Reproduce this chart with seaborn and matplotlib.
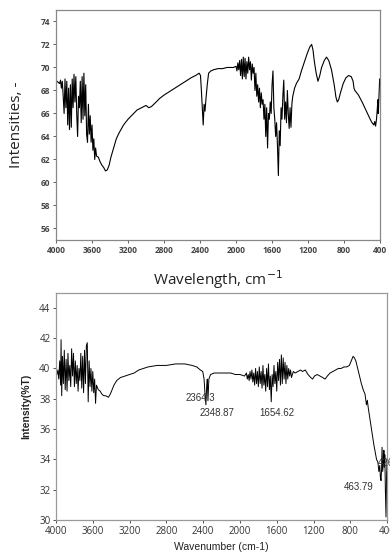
import matplotlib
matplotlib.use("Agg")
import matplotlib.pyplot as plt
import seaborn as sns
import pandas as pd

# ---------------- data ----------------
top_wn = [4000, 3990, 3975, 3960, 3950, 3940, 3930, 3920, 3910, 3900, 3890, 3880, 3870, 3860, 3850,
          3840, 3830, 3820, 3810, 3800, 3790, 3780, 3770, 3760, 3750, 3740, 3730, 3720, 3710, 3700,
          3690, 3680, 3670, 3660, 3650, 3640, 3630, 3620, 3610, 3600, 3590, 3580, 3570, 3560, 3550,
          3530, 3510, 3490, 3470, 3450, 3430, 3410, 3390, 3360, 3330, 3300, 3250, 3200, 3150, 3100,
          3050, 3000, 2970, 2940, 2900, 2850, 2800, 2700, 2600, 2500, 2450, 2410, 2395, 2385, 2375,
          2365, 2355, 2345, 2335, 2320, 2305, 2280, 2250, 2200, 2150, 2100, 2030, 2000, 1990, 1980,
          1970, 1960, 1950, 1940, 1930, 1920, 1910, 1900, 1890, 1880, 1870, 1860, 1850, 1840, 1830,
          1820, 1810, 1800, 1790, 1780, 1770, 1760, 1750, 1740, 1730, 1720, 1710, 1700, 1690, 1680,
          1670, 1660, 1650, 1640, 1630, 1620, 1610, 1600, 1590, 1580, 1570, 1560, 1550, 1540, 1530,
          1520, 1510, 1500, 1490, 1480, 1470, 1460, 1450, 1440, 1430, 1420, 1410, 1400, 1390, 1380,
          1370, 1350, 1330, 1300, 1270, 1240, 1210, 1180, 1160, 1145, 1130, 1110, 1090, 1070, 1050,
          1020, 995, 970, 940, 910, 890, 875, 860, 840, 810, 780, 750, 720, 700, 690,
          680, 660, 640, 620, 600, 570, 540, 510, 490, 470, 460, 450, 440, 430, 425,
          420, 415, 410, 405, 400]
top_int = [68.9, 68.8, 68.7, 68.6, 68.9, 68.2, 68.8, 67.5, 66.0, 69.0, 66.5, 68.8, 65.0, 68.2, 64.6,
           68.5, 64.8, 69.0, 66.5, 69.4, 67.0, 69.2, 66.0, 64.0, 67.5, 66.5, 68.8, 65.2, 69.2, 65.5,
           69.5, 65.8, 68.5, 64.2, 63.5, 66.8, 64.2, 65.8, 63.5, 65.0, 62.8, 63.8, 62.0, 63.0, 62.3,
           62.2, 61.8, 61.5, 61.3, 61.0, 61.1, 61.5, 62.2, 63.0, 63.8, 64.3, 65.0, 65.5, 65.9, 66.3,
           66.5, 66.7, 66.5, 66.6, 66.9, 67.3, 67.6, 68.1, 68.6, 69.1, 69.3, 69.5, 69.3, 68.0, 66.5,
           65.0, 66.8, 66.2, 67.2, 68.5, 69.5, 69.7, 69.8, 69.9, 69.9, 70.0, 70.0, 70.1, 69.7, 70.4,
           69.8, 70.6, 69.3, 70.7, 69.0, 70.9, 69.2, 70.8, 69.0, 70.5, 69.5, 70.9, 69.8, 70.5, 68.9,
           70.3, 69.5, 70.0, 68.0, 69.5, 67.5, 68.5, 67.0, 68.2, 66.5, 67.8, 66.8, 67.2, 65.5, 66.8,
           64.0, 66.5, 63.0, 66.0, 65.5, 67.0, 66.0, 68.5, 69.7, 66.5, 65.5, 64.0, 65.2, 63.2, 60.6,
           64.5, 63.2, 66.5, 65.5, 67.5, 68.9, 65.5, 67.0, 65.2, 68.0, 66.0, 64.7, 66.5, 64.8, 66.8,
           67.5, 68.2, 68.6, 69.0, 69.8, 70.5, 71.2, 71.8, 72.0, 71.5, 70.5, 69.5, 68.8, 69.3, 70.0,
           70.6, 70.9, 70.6, 69.8, 68.5, 67.4, 67.0, 67.2, 67.8, 68.6, 69.1, 69.3, 69.2, 68.8, 68.2,
           68.0, 67.8, 67.6, 67.3, 67.0, 66.5, 66.0, 65.5, 65.2, 65.0, 65.3, 64.9, 65.5, 66.5, 67.2,
           66.0, 67.0, 68.0, 69.0, 69.0]

bot_wn = [4000, 3990, 3980, 3970, 3960, 3950, 3945, 3938, 3930, 3920, 3910, 3900, 3890, 3880, 3870,
          3860, 3850, 3840, 3830, 3820, 3810, 3800, 3790, 3780, 3770, 3760, 3750, 3740, 3730, 3720,
          3710, 3700, 3690, 3680, 3670, 3660, 3650, 3640, 3630, 3620, 3610, 3600, 3590, 3580, 3570,
          3560, 3540, 3520, 3500, 3480, 3460, 3430, 3410, 3390, 3370, 3340, 3300, 3250, 3200, 3150,
          3100, 3050, 3000, 2900, 2800, 2700, 2600, 2520, 2470, 2430, 2405, 2390, 2380, 2370, 2362,
          2355, 2348, 2338, 2320, 2280, 2200, 2100, 2050, 2000, 1950, 1930, 1920, 1910, 1900, 1890,
          1880, 1870, 1860, 1850, 1840, 1830, 1820, 1810, 1800, 1790, 1780, 1770, 1760, 1750, 1740,
          1730, 1720, 1710, 1700, 1690, 1680, 1670, 1660, 1650, 1640, 1630, 1620, 1610, 1600, 1590,
          1580, 1570, 1560, 1550, 1540, 1530, 1520, 1510, 1500, 1490, 1480, 1470, 1460, 1450, 1440,
          1420, 1400, 1370, 1340, 1320, 1290, 1260, 1230, 1210, 1190, 1160, 1130, 1100, 1075, 1050,
          1020, 990, 960, 930, 900, 870, 840, 810, 790, 770, 755, 740, 720, 700, 680,
          660, 640, 625, 615, 605, 590, 575, 560, 545, 530, 515, 500, 490, 480, 473,
          466, 460, 455, 448, 440, 435, 430, 425, 419, 412, 406, 400]
bot_int = [39.8, 39.6, 39.9, 39.3, 40.5, 38.9, 41.9, 38.2, 40.8, 39.0, 41.2, 38.6, 40.6, 38.5, 41.0,
           39.2, 40.2, 38.8, 41.3, 39.5, 41.0, 38.8, 40.5, 39.0, 40.2, 38.5, 40.0, 39.2, 41.0, 38.7,
           40.8, 38.4, 41.2, 39.0, 41.5, 41.7, 37.8, 40.5, 38.8, 40.0, 38.5, 39.8, 38.4, 39.3, 37.7,
           38.9, 38.6, 38.5, 38.3, 38.2, 38.2, 38.1, 38.3, 38.6, 38.9, 39.2, 39.4, 39.5, 39.6, 39.7,
           39.9, 40.0, 40.1, 40.2, 40.2, 40.3, 40.3, 40.2, 40.1, 39.9, 39.8, 39.3, 38.3, 37.6, 38.8,
           39.3, 37.9, 39.3, 39.6, 39.7, 39.7, 39.7, 39.6, 39.6, 39.5, 39.7, 39.3, 39.6, 39.2, 39.8,
           39.3, 39.9, 39.1, 39.7, 38.9, 40.0, 39.0, 39.8, 38.8, 40.1, 39.0, 39.8, 38.7, 40.2, 38.9,
           39.6, 38.5, 40.0, 38.8, 40.3, 38.6, 39.5, 37.8, 39.6, 38.8, 40.2, 39.0, 39.8, 38.5, 40.4,
           39.2, 40.6, 38.9, 40.9, 39.0, 40.7, 39.3, 40.4, 39.0, 40.2, 39.3, 40.0, 39.5, 39.9, 39.4,
           39.8, 39.7, 39.8, 39.9, 39.8, 39.9, 39.6, 39.4, 39.3, 39.5, 39.6, 39.5, 39.4, 39.3, 39.5,
           39.7, 39.8, 39.9, 40.0, 40.0, 40.1, 40.1, 40.2, 40.5, 40.8, 40.7, 40.5, 40.0, 39.5, 39.0,
           38.6, 38.3, 37.6, 37.9, 37.4, 36.8, 36.2, 35.6, 35.0, 34.5, 34.0, 33.8, 33.2, 33.6, 32.8,
           32.6, 33.4, 34.8, 33.2, 33.8, 34.6, 33.5, 34.3, 32.0, 30.2, 33.0, 34.0]

xticks = [4000, 3600, 3200, 2800, 2400, 2000, 1600, 1200, 800, 400]
top_yticks = [56, 58, 60, 62, 64, 66, 68, 70, 72, 74]
bot_yticks = [30, 32, 34, 36, 38, 40, 42, 44]

peak_labels = ["2364.3", "2348.87", "1654.62", "426.19", "463.79"]
peak_x = [2429, 2255, 1600, 498, 706]
peak_y = [38.03, 37.05, 37.05, 33.76, 32.18]

# ---------------- figure ----------------
sns.set_style("white")
plt.rcParams["font.family"] = ["Open Sans", "DejaVu Sans"]

fig = plt.figure(figsize=(3.9, 5.53), dpi=100)
ax1 = fig.add_axes([0.1436, 0.566, 0.831, 0.416])
ax2 = fig.add_axes([0.1436, 0.0597, 0.849, 0.411])

df_top = pd.DataFrame({"wn": top_wn, "I": top_int})
df_bot = pd.DataFrame({"wn": bot_wn, "I": bot_int})

sns.lineplot(data=df_top, x="wn", y="I", ax=ax1, color="black", linewidth=0.8,
             sort=False, estimator=None)
sns.lineplot(data=df_bot, x="wn", y="I", ax=ax2, color="black", linewidth=0.7,
             sort=False, estimator=None)

# top axes styling
ax1.set_xlim(4000, 400)
ax1.set_ylim(55, 75)
ax1.set_xticks(xticks)
ax1.set_xticklabels([str(t) for t in xticks])
ax1.set_yticks(top_yticks)
ax1.tick_params(axis="both", labelsize=6, colors="#444444", length=2, width=0.6,
                direction="out", pad=2, left=True, bottom=True)
for lab in ax1.get_xticklabels() + ax1.get_yticklabels():
    lab.set_fontweight("bold")
for s in ax1.spines.values():
    s.set_color("#888888")
    s.set_linewidth(0.9)
ax1.set_xlabel("Wavelength, cm$^{-1}$", fontsize=11, color="#222222")
ax1.xaxis.set_label_coords(0.5, -0.125)
ax1.set_ylabel("Intensities, -", fontsize=11, color="#222222")
ax1.yaxis.set_label_coords(-0.10, 0.5)

# bottom axes styling
ax2.set_xlim(4000, 400)
ax2.set_ylim(30, 45)
ax2.set_xticks(xticks)
ax2.set_xticklabels([str(t) for t in xticks])
ax2.set_yticks(bot_yticks)
ax2.tick_params(axis="both", labelsize=7, colors="#333333", length=2, width=0.6,
                direction="out", pad=2, left=True, bottom=True)
for s in ax2.spines.values():
    s.set_color("#999999")
    s.set_linewidth(0.9)
ax2.set_xlabel("Wavenumber (cm-1)", fontsize=7.5, color="#222222",
               family=["Liberation Sans", "DejaVu Sans"])
ax2.xaxis.set_label_coords(0.5, -0.095)
ax2.set_ylabel("Intensity(%T)", fontsize=7.5, color="#222222", fontweight="bold",
               family=["Liberation Sans Narrow", "Liberation Sans", "DejaVu Sans"])
ax2.yaxis.set_label_coords(-0.075, 0.5)

for lab, x, y in zip(peak_labels, peak_x, peak_y):
    ha = "left" if lab == "426.19" else "center"
    ax2.text(x, y, lab, fontsize=7, color="#333333", ha=ha, va="center", clip_on=False,
             family=["Liberation Sans", "DejaVu Sans"])

fig.savefig("out.png", dpi=100)
